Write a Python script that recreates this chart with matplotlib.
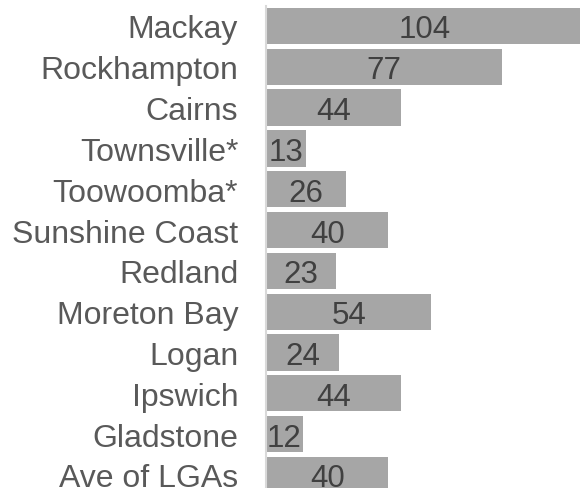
import matplotlib
matplotlib.use('Agg')
from matplotlib import pyplot as plt

# Data (top to bottom)
regions = ['Mackay', 'Rockhampton', 'Cairns', 'Townsville*', 'Toowoomba*',
           'Sunshine Coast', 'Redland', 'Moreton Bay', 'Logan', 'Ipswich',
           'Gladstone', 'Ave of LGAs']
counts = [104, 77, 44, 13, 26, 40, 23, 54, 24, 44, 12, 40]

plt.rcParams['font.family'] = ['Liberation Sans', 'DejaVu Sans']

fig = plt.figure(figsize=(5.8, 4.89), dpi=100)
ax = fig.add_axes([266 / 580, 0, 1 - 266 / 580, 1 - 7 / 489])

pos = list(range(len(regions)))
ax.barh(pos, counts, height=0.89, color='#a6a6a6')

for y, v in zip(pos, counts):
    ax.text(v / 2, y, str(v), ha='center', va='center_baseline',
            fontsize=22.5, color='#404040')

ax.set_xlim(0, 314 / 3.06)
ax.set_ylim(11.32, -0.49)

ax.set_yticks(pos)
ax.set_yticklabels(regions, fontsize=23, color='#595959')
ax.tick_params(axis='y', length=0, pad=20)
ax.set_xticks([])

for side in ['top', 'right', 'bottom']:
    ax.spines[side].set_visible(False)
ax.spines['left'].set_color('#d9d9d9')
ax.spines['left'].set_linewidth(1.5)

fig.savefig('out.png', dpi=100)
